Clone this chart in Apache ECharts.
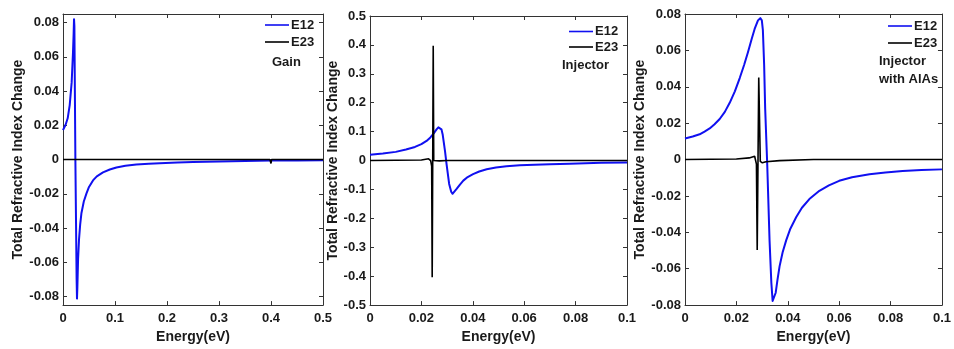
<!DOCTYPE html>
<html><head><meta charset="utf-8">
<script src="https://cdn.jsdelivr.net/npm/echarts@6/dist/echarts.min.js"></script>
<style>html,body{margin:0;padding:0;background:#fff}#c{width:954px;height:349px}</style>
</head><body><div id="c"></div>
<script>
const seriesNames = ['E12', 'E23'];
const panelLabels = ['Gain', 'Injector', 'Injector\nwith AlAs'];
const xAxisTitle = 'Energy(eV)';
const yAxisTitle = 'Total Refractive Index Change';

// Panel 1: Gain
const gainE12X = [0, 0.0013, 0.005, 0.009, 0.0129, 0.0167, 0.0192, 0.0205, 0.0212, 0.0219, 0.0238, 0.0262, 0.0269, 0.0276, 0.029, 0.0308, 0.033, 0.0354, 0.04, 0.045, 0.05, 0.0577, 0.065, 0.0769, 0.09, 0.1027, 0.12, 0.141, 0.165, 0.186, 0.22, 0.25, 0.3, 0.35, 0.4, 0.45, 0.5];
const gainE12Y = [0.0172, 0.0174, 0.0203, 0.0241, 0.0318, 0.0452, 0.0624, 0.074, 0.082, 0.078, 0.0, -0.07, -0.0812, -0.075, -0.058, -0.0467, -0.038, -0.0314, -0.0245, -0.0199, -0.016, -0.0122, -0.0098, -0.0075, -0.0058, -0.0046, -0.0036, -0.0029, -0.0024, -0.0021, -0.0017, -0.0014, -0.0011, -0.0008, -0.0006, -0.0005, -0.0004];
const gainE23X = [0, 0.398, 0.399, 0.4, 0.401, 0.5];
const gainE23Y = [0, 0, 0.0007, -0.0023, 0, 0];

// Panel 2: Injector
const injE12X = [0, 0.005, 0.01, 0.014, 0.0175, 0.02, 0.022, 0.0235, 0.0248, 0.0259, 0.0266, 0.0272, 0.0278, 0.0283, 0.0292, 0.0298, 0.0308, 0.0316, 0.0321, 0.0328, 0.0337, 0.035, 0.0363, 0.038, 0.0401, 0.0425, 0.0454, 0.049, 0.0531, 0.0583, 0.064, 0.07, 0.0777, 0.09, 0.1];
const injE12Y = [0.0199, 0.024, 0.030, 0.038, 0.047, 0.057, 0.068, 0.080, 0.094, 0.108, 0.115, 0.117, 0.108, 0.089, 0.032, -0.013, -0.081, -0.108, -0.115, -0.109, -0.098, -0.083, -0.0695, -0.057, -0.047, -0.038, -0.030, -0.024, -0.0195, -0.0165, -0.0143, -0.0125, -0.0107, -0.008, -0.0065];
const injE23X = [0, 0.02, 0.0228, 0.0236, 0.0240, 0.0242, 0.0246, 0.0248, 0.0253, 0.027, 0.03, 0.1];
const injE23Y = [0, 0.002, 0.006, 0.0, -0.019, -0.404, 0.397, 0.0, -0.004, -0.001, 0, 0];

// Panel 3: Injector with AlAs
const alasE12X = [0, 0.003, 0.0057, 0.0076, 0.0096, 0.0115, 0.0135, 0.0155, 0.0174, 0.0194, 0.0213, 0.023, 0.0245, 0.026, 0.0271, 0.0284, 0.0293, 0.0299, 0.0303, 0.0308, 0.0312, 0.032, 0.0329, 0.0336, 0.0341, 0.0347, 0.0353, 0.036, 0.0368, 0.038, 0.0394, 0.041, 0.0433, 0.0455, 0.0484, 0.0523, 0.056, 0.06, 0.065, 0.0718, 0.078, 0.0847, 0.092, 0.1];
const alasE12Y = [0.0116, 0.0127, 0.0139, 0.0154, 0.0171, 0.0194, 0.0223, 0.0262, 0.0312, 0.0375, 0.0448, 0.052, 0.059, 0.0665, 0.0718, 0.0765, 0.0777, 0.0765, 0.0713, 0.052, 0.028, -0.0027, -0.0443, -0.0677, -0.0777, -0.0768, -0.0732, -0.066, -0.0587, -0.051, -0.0443, -0.038, -0.0316, -0.0265, -0.0217, -0.0172, -0.0142, -0.0117, -0.0097, -0.0081, -0.0071, -0.0063, -0.0058, -0.0054];
const alasE23X = [0, 0.02, 0.025, 0.0271, 0.0278, 0.0281, 0.0287, 0.0293, 0.0301, 0.0315, 0.0368, 0.05, 0.1];
const alasE23Y = [0, 0.0003, 0.0009, 0.0018, -0.0025, -0.0497, 0.0451, -0.001, -0.0018, -0.0012, -0.0006, 0, 0];

// Tick values
const gainXTicks = [0, 0.1, 0.2, 0.3, 0.4, 0.5];
const narrowXTicks = [0, 0.02, 0.04, 0.06, 0.08, 0.1];
const smallYTicks = [-0.08, -0.06, -0.04, -0.02, 0, 0.02, 0.04, 0.06, 0.08];
const injYTicks = [-0.5, -0.4, -0.3, -0.2, -0.1, 0, 0.1, 0.2, 0.3, 0.4, 0.5];

const pairs = (xs, ys) => xs.map((x, i) => [x, ys[i]]);
const fmt = v => String(parseFloat((+v).toFixed(4)));
const FONT = '"Liberation Sans", Arial, Helvetica, sans-serif';
const AX = '#333';
const TXT = '#1a1a1a';

const panels = [
  { grid: { left: 63, top: 14, width: 260, height: 295 }, xMin: 0, xMax: 0.5, xTicks: gainXTicks, yMin: -0.085, yMax: 0.085, yTicks: smallYTicks, nameGap: 35,
    e12: pairs(gainE12X, gainE12Y), e23: pairs(gainE23X, gainE23Y),
    legend: { left: 265, top: 18, gap: 3 }, label: { left: 272, top: 55, lh: 14 } },
  { grid: { left: 370, top: 16, width: 257, height: 294 }, xMin: 0, xMax: 0.1, xTicks: narrowXTicks, yMin: -0.5, yMax: 0.5, yTicks: injYTicks, nameGap: 27,
    e12: pairs(injE12X, injE12Y), e23: pairs(injE23X, injE23Y),
    legend: { left: 569, top: 24.5, gap: 1.5 }, label: { left: 562, top: 58, lh: 14 } },
  { grid: { left: 685, top: 14, width: 258, height: 295 }, xMin: 0, xMax: 0.1, xTicks: narrowXTicks, yMin: -0.08, yMax: 0.08, yTicks: smallYTicks, nameGap: 37,
    e12: pairs(alasE12X, alasE12Y), e23: pairs(alasE23X, alasE23Y),
    legend: { left: 888, top: 19, gap: 3 }, label: { left: 879, top: 53, lh: 17.6 } }
];

const option = { backgroundColor: '#fff', animation: false, grid: [], xAxis: [], yAxis: [], series: [], legend: [], title: [] };

panels.forEach((p, i) => {
  option.grid.push(p.grid);
  const tick = vals => ({ show: true, inside: true, length: 4, customValues: vals, lineStyle: { color: AX, width: 1 } });
  const axLine = { show: true, onZero: false, lineStyle: { color: AX, width: 1 } };
  option.xAxis.push({
    type: 'value', gridIndex: i, position: 'bottom', min: p.xMin, max: p.xMax,
    axisLine: axLine, axisTick: tick(p.xTicks), splitLine: { show: false },
    axisLabel: { customValues: p.xTicks, formatter: fmt, margin: 7, fontSize: 13, fontWeight: 'bold', color: TXT, fontFamily: FONT, showMinLabel: true, showMaxLabel: true },
    name: xAxisTitle, nameLocation: 'middle', nameGap: 17,
    nameTextStyle: { fontSize: 14, fontWeight: 'bold', color: TXT, fontFamily: FONT }
  });
  option.xAxis.push({
    type: 'value', gridIndex: i, position: 'top', min: p.xMin, max: p.xMax,
    axisLine: axLine, axisTick: tick(p.xTicks), axisLabel: { show: false }, splitLine: { show: false }
  });
  option.yAxis.push({
    type: 'value', gridIndex: i, position: 'left', min: p.yMin, max: p.yMax,
    axisLine: axLine, axisTick: tick(p.yTicks), splitLine: { show: false },
    axisLabel: { customValues: p.yTicks, formatter: fmt, margin: 4, fontSize: 13, fontWeight: 'bold', color: TXT, fontFamily: FONT, showMinLabel: true, showMaxLabel: true },
    name: yAxisTitle, nameLocation: 'middle', nameGap: p.nameGap,
    nameTextStyle: { fontSize: 14, fontWeight: 'bold', color: TXT, fontFamily: FONT }
  });
  option.yAxis.push({
    type: 'value', gridIndex: i, position: 'right', min: p.yMin, max: p.yMax,
    axisLine: axLine, axisTick: tick(p.yTicks), axisLabel: { show: false }, splitLine: { show: false }
  });
  option.series.push({
    name: seriesNames[0], type: 'line', xAxisIndex: 2 * i, yAxisIndex: 2 * i, data: p.e12,
    showSymbol: false, symbol: 'none',
    lineStyle: { color: '#1010f0', width: 2, join: 'round' }, itemStyle: { color: '#1010f0' }, z: 3
  });
  option.series.push({
    name: seriesNames[1], type: 'line', xAxisIndex: 2 * i, yAxisIndex: 2 * i, data: p.e23,
    showSymbol: false, symbol: 'none', lineStyle: { color: '#000', width: 1.6 }, itemStyle: { color: '#000' }, z: 4
  });
  option.legend.push({
    data: seriesNames, orient: 'vertical', left: p.legend.left, top: p.legend.top, padding: 0,
    itemGap: p.legend.gap, itemWidth: 24, itemHeight: 1.6, icon: 'rect', selectedMode: false,
    textStyle: { fontSize: 13, fontWeight: 'bold', color: TXT, fontFamily: FONT, lineHeight: 14, padding: [0, 0, 0, -3] }
  });
  option.title.push({
    text: panelLabels[i], left: p.label.left, top: p.label.top, padding: 0,
    textStyle: { fontSize: 13, fontWeight: 'bold', color: TXT, fontFamily: FONT, lineHeight: p.label.lh }
  });
});

const chart = echarts.init(document.getElementById('c'), null, { renderer: 'canvas' });
chart.setOption(option);
</script>
</body></html>
